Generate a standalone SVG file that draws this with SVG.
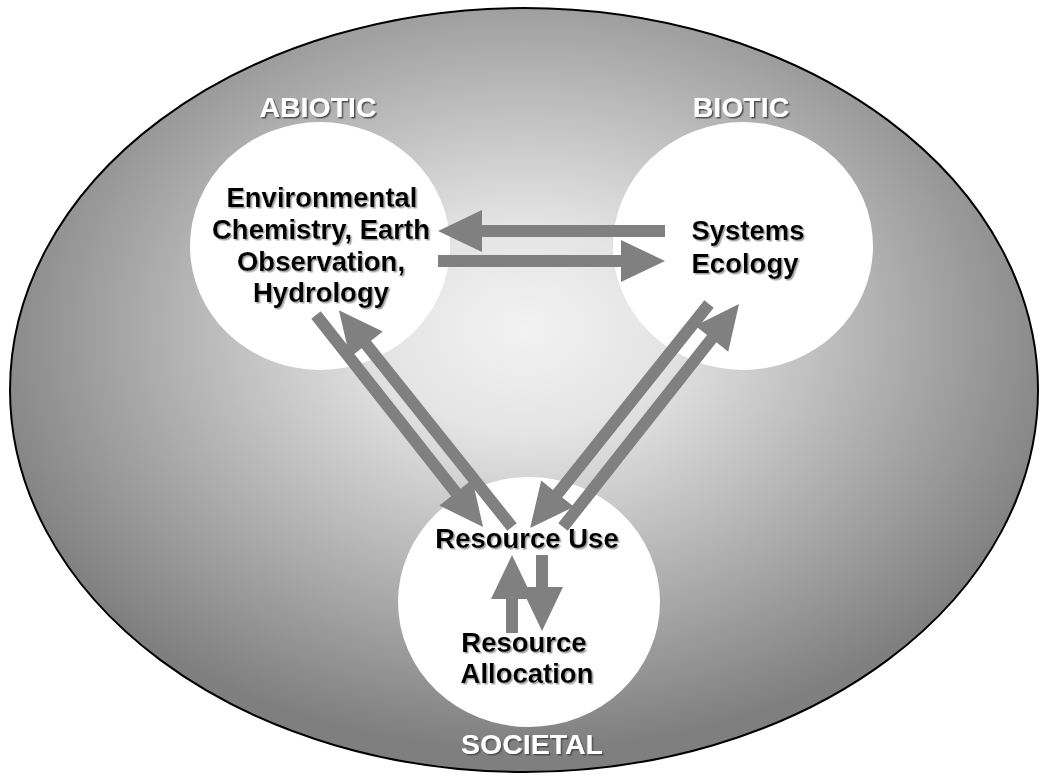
<svg xmlns="http://www.w3.org/2000/svg" width="1040" height="776" viewBox="0 0 1040 776">
<defs>
<radialGradient id="bg" cx="0.5" cy="0.42" r="0.55" fx="0.5" fy="0.42">
<stop offset="0" stop-color="#f2f2f2"/>
<stop offset="0.25" stop-color="#e4e4e4"/>
<stop offset="1" stop-color="#7f7f7f"/>
</radialGradient>
<filter id="shB" x="-10%" y="-20%" width="120%" height="150%">
<feDropShadow dx="1.5" dy="1.5" stdDeviation="0.6" flood-color="#999999" flood-opacity="0.9"/>
</filter>
<filter id="shW" x="-10%" y="-20%" width="120%" height="150%">
<feDropShadow dx="1.5" dy="1.5" stdDeviation="0.6" flood-color="#4a4a4a" flood-opacity="0.9"/>
</filter>
</defs>
<style>
.t{font-family:"Liberation Sans",Arial,sans-serif;font-weight:bold;font-size:27.5px;fill:#000;text-anchor:middle;filter:url(#shB)}
.lab{font-family:"Liberation Sans",Arial,sans-serif;font-weight:bold;font-size:28.5px;fill:#fff;text-anchor:middle;filter:url(#shW)}
.node{fill:#fff}
.arr{fill:#808080}
</style>
<g id="context">
<ellipse cx="524" cy="390" rx="514" ry="382" fill="url(#bg)" stroke="#000" stroke-width="2"/>
</g>
<g id="abiotic">
<ellipse class="node" cx="320" cy="246" rx="130" ry="124"/>
<text class="lab" x="318" y="117">ABIOTIC</text>
<text class="t" x="322" y="207">Environmental</text>
<text class="t" x="321" y="239">Chemistry, Earth</text>
<text class="t" x="321" y="271">Observation,</text>
<text class="t" x="321" y="302">Hydrology</text>
</g>
<g id="biotic">
<ellipse class="node" cx="743" cy="246" rx="130" ry="124"/>
<text class="lab" x="741" y="117">BIOTIC</text>
<text class="t" x="748" y="240">Systems</text>
<text class="t" x="745" y="273">Ecology</text>
</g>
<g id="societal">
<ellipse class="node" cx="529" cy="602" rx="131" ry="125"/>
<text class="lab" x="532" y="754">SOCIETAL</text>
<text class="t" x="527" y="548">Resource Use</text>
<text class="t" x="524" y="652">Resource</text>
<text class="t" x="527" y="683">Allocation</text>
</g>
<g id="connectors">
<polygon class="arr" transform="translate(665,231) rotate(180)" points="0,-6 183,-6 183,-21 227,0 183,21 183,6 0,6"/>
<polygon class="arr" transform="translate(438,261)" points="0,-6 183,-6 183,-21 227,0 183,21 183,6 0,6"/>
<polygon class="arr" transform="translate(316,315) rotate(51.77)" points="0,-6 226,-6 226,-21 270,0 226,21 226,6 0,6"/>
<polygon class="arr" transform="translate(512,527) rotate(-128.6)" points="0,-6 233.5,-6 233.5,-21 277.5,0 233.5,21 233.5,6 0,6"/>
<polygon class="arr" transform="translate(709,304) rotate(128.6)" points="0,-6 242.7,-6 242.7,-21 286.7,0 242.7,21 242.7,6 0,6"/>
<polygon class="arr" transform="translate(563,527) rotate(-51.7)" points="0,-6 240,-6 240,-21 284,0 240,21 240,6 0,6"/>
<polygon class="arr" transform="translate(512,633) rotate(-90)" points="0,-6 34,-6 34,-21 78,0 34,21 34,6 0,6"/>
<polygon class="arr" transform="translate(542,555) rotate(90)" points="0,-6 32,-6 32,-21 76,0 32,21 32,6 0,6"/>
</g>
</svg>
